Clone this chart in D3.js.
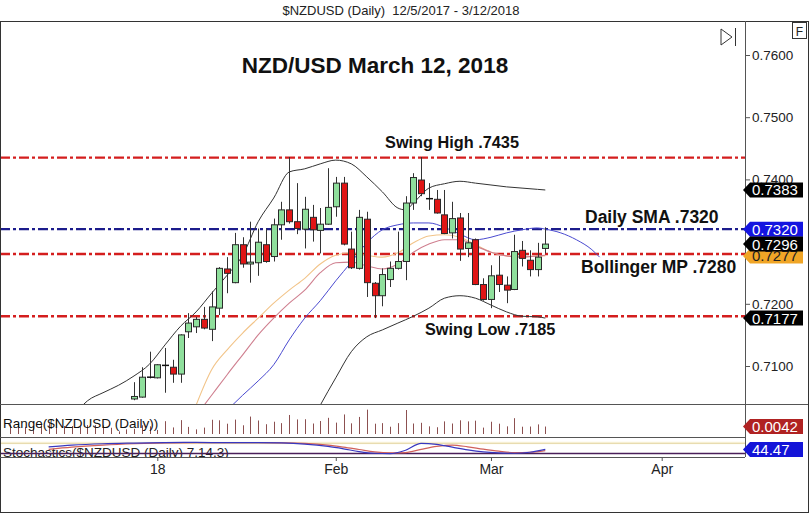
<!DOCTYPE html>
<html><head><meta charset="utf-8">
<script src="https://cdn.jsdelivr.net/npm/d3@7/dist/d3.min.js"></script>
<style>
html,body{margin:0;padding:0;background:#fff;}
svg{display:block;}
text{font-family:Arial,"Liberation Sans",Helvetica,sans-serif;}
</style></head>
<body><svg id="chart" width="810" height="515"></svg>
<script>
// ---------- DATA ----------
const dates = ["2017-12-05","2017-12-06","2017-12-07","2017-12-08","2017-12-11","2017-12-12","2017-12-13","2017-12-14","2017-12-15","2017-12-18","2017-12-19","2017-12-20","2017-12-21","2017-12-22","2017-12-25","2017-12-26","2017-12-27","2017-12-28","2017-12-29",
"2018-01-01","2018-01-02","2018-01-03","2018-01-04","2018-01-05","2018-01-08","2018-01-09","2018-01-10","2018-01-11","2018-01-12","2018-01-15","2018-01-16","2018-01-17","2018-01-18","2018-01-19","2018-01-22","2018-01-23","2018-01-24","2018-01-25","2018-01-26","2018-01-29","2018-01-30","2018-01-31",
"2018-02-01","2018-02-02","2018-02-05","2018-02-06","2018-02-07","2018-02-08","2018-02-09","2018-02-12","2018-02-13","2018-02-14","2018-02-15","2018-02-16","2018-02-19","2018-02-20","2018-02-21","2018-02-22","2018-02-23","2018-02-26","2018-02-27","2018-02-28",
"2018-03-01","2018-03-02","2018-03-05","2018-03-06","2018-03-07","2018-03-08","2018-03-09","2018-03-12"];
const open = [.6915,.6890,.6845,.6835,.6830,.6870,.6910,.6975,.6965,.6985,.6975,.7000,.7025,.7000,.7015,.7020,
.7047,.7050,.7081,.7081,.7100,.7098,.7087,.7155,.7163,.7175,.7159,.7193,.7256,.7234,.7295,.7264,.7266,.7295,.7276,.7327,.7351,.7332,.7320,.7339,.7318,.7328,.7356,.7394,.7288,.7257,.7336,.7233,.7213,.7239,.7257,.7268,.7362,.7399,.7370,.7368,.7343,.7314,.7338,.7289,.7303,.7231,.7207,.7246,.7230,.7223,.7286,.7270,.7255,.7289];
const high = [.6935,.6900,.6860,.6850,.6880,.6920,.6985,.6990,.6995,.7005,.7010,.7035,.7038,.7030,.7025,.7038,
.7074,.7098,.7123,.7103,.7129,.7110,.7151,.7185,.7179,.7195,.7220,.7259,.7275,.7314,.7307,.7332,.7321,.7321,.7337,.7364,.7436,.7394,.7372,.7359,.7354,.7418,.7404,.7404,.7316,.7351,.7348,.7235,.7257,.7268,.7316,.7373,.7410,.7436,.7394,.7383,.7383,.7364,.7346,.7346,.7305,.7241,.7262,.7277,.7244,.7311,.7301,.7286,.7298,.7323];
const low = [.6880,.6840,.6820,.6810,.6825,.6860,.6895,.6945,.6950,.6965,.6960,.6985,.6990,.6995,.7010,.7012,
.7045,.7049,.7080,.7080,.7057,.7073,.7073,.7145,.7153,.7159,.7140,.7182,.7217,.7233,.7258,.7234,.7245,.7266,.7268,.7303,.7329,.7312,.7289,.7300,.7281,.7327,.7340,.7294,.7256,.7255,.7211,.7177,.7196,.7227,.7255,.7238,.7351,.7373,.7351,.7345,.7312,.7305,.7269,.7275,.7230,.7205,.7193,.7219,.7201,.7222,.7260,.7244,.7244,.7281];
const close = [.6890,.6845,.6835,.6830,.6870,.6910,.6975,.6965,.6985,.6975,.7000,.7025,.7000,.7015,.7020,.7030,
.7051,.7082,.7082,.7102,.7101,.7087,.7150,.7169,.7175,.7161,.7195,.7257,.7249,.7295,.7264,.7267,.7299,.7268,.7327,.7351,.7332,.7321,.7352,.7319,.7328,.7355,.7394,.7296,.7258,.7339,.7234,.7213,.7247,.7257,.7268,.7362,.7403,.7377,.7369,.7346,.7313,.7337,.7288,.7298,.7231,.7207,.7245,.7231,.7222,.7284,.7273,.7255,.7275,.7296];

// indicator lines: trading-day index + value
const upperIdx  = [9,10,12,14,16,18,20,22,24,26,28,30,32,34,36,38,40,42,44,46,48,50,51,52,54,56,58,60,62,64,66,68,69];
const upperBand = [.7032,.7044,.7057,.7069,.7084,.7103,.7134,.7164,.7187,.7217,.7246,.7278,.7332,.7370,.7412,.7417,.7425,.7431,.7425,.7404,.7380,.7354,.7351,.7362,.7386,.7393,.7397,.7394,.7391,.7388,.7386,.7384,.7383];
const lowerIdx  = [38,40,42,44,46,48,50,52,54,56,58,60,62,64,66,68,69];
const lowerBand = [.6990,.7037,.7081,.7123,.7147,.7158,.7169,.7180,.7193,.7209,.7213,.7209,.7198,.7187,.7180,.7179,.7177];
const smaIdx  = [28,30,32,34,36,38,40,42,44,46,48,50,52,54,56,58,60,62,64,66,68,69,71,73,75,76];
const smaLine = [.7029,.7053,.7076,.7102,.7142,.7177,.7205,.7237,.7267,.7298,.7319,.7327,.7330,.7330,.7323,.7312,.7303,.7307,.7314,.7319,.7322,.7320,.7314,.7303,.7287,.7275];
const maOrangeIdx = [24,26,28,30,32,34,36,38,40,42,44,46,48,50,52,54,56,58,60,62,64,66,68,69];
const maOrange = [.7037,.7094,.7126,.7153,.7177,.7201,.7222,.7241,.7264,.7278,.7282,.7278,.7275,.7282,.7298,.7309,.7311,.7307,.7295,.7283,.7277,.7275,.7277,.7277];
const maPinkIdx = [24,26,28,30,32,34,36,38,40,42,44,46,48,50,52,54,56,58,60,62,64,66,68,69];
const maPink = [.7020,.7053,.7086,.7118,.7150,.7177,.7201,.7222,.7250,.7266,.7267,.7261,.7256,.7264,.7283,.7296,.7303,.7303,.7293,.7283,.7277,.7275,.7277,.7278];

const stochIdx = [5,8,12,16,20,24,28,32,35,38,41,43,45,47,49,51,53,55,57,59,61,63,65,67,69];
const stochK = [60,70,78,82,85,86,84,85,83,76,62,48,32,22,20,40,80,74,58,42,30,24,22,28,44.47];
const stochD = [45,58,70,78,83,85,84,84,83,80,70,58,44,30,24,26,45,62,70,60,46,34,26,28,38];

const priceTicks = [0.71,0.72,0.73,0.74,0.75,0.76];
const monthTickIdx = [19,42,62,84];
const monthTickLabels = ["18","Feb","Mar","Apr"];
const levelValues = [0.7435,0.7320,0.7280,0.7180];
const levelColors = ["#d41e1e","#1c1c8c","#d41e1e","#d41e1e"];
const noteTexts = ["Swing High .7435","Daily SMA .7320","Bollinger MP .7280","Swing Low .7185"];
const titleText = "NZD/USD March 12, 2018";
const headerText = "$NZDUSD (Daily)  12/5/2017 - 3/12/2018";

// ---------- LAYOUT ----------
const svg = d3.select("#chart");
const axisX = 745, frameR = 808;
const mainTop = 21, mainBot = 404, rangeBot = 437, stochBot = 457, frameBot = 512;

const x = d3.scaleLinear().domain([19,84]).range([157.3,661.7]);
const y = d3.scaleLinear().domain([0.71,0.76]).range([366,55]);
const yR = d3.scaleLinear().domain([0,0.018]).range([434,402]);
const yS = d3.scaleLinear().domain([0,100]).range([457,440]);

const defs = svg.append("defs");
function clip(id, y0, y1){
  defs.append("clipPath").attr("id",id).append("rect").attr("x",0).attr("y",y0).attr("width",axisX).attr("height",y1-y0);
}
clip("cMain", mainTop+1, mainBot);
clip("cRange", mainBot+1, rangeBot);
clip("cStoch", rangeBot+1, stochBot);

svg.append("rect").attr("width",810).attr("height",515).attr("fill","#fff");

// header
svg.append("text").attr("x",401).attr("y",15).attr("text-anchor","middle")
  .style("font-family","'Liberation Sans Narrow','Arial Narrow',Arial,sans-serif")
  .style("white-space","pre").attr("font-size",13).attr("fill","#222").text(headerText);

// ---------- MAIN PANEL ----------
const gMain = svg.append("g").attr("clip-path","url(#cMain)");

// horizontal levels
gMain.selectAll("line.lvl").data(levelValues).join("line")
  .attr("x1",0).attr("x2",axisX).attr("y1",d=>y(d)).attr("y2",d=>y(d))
  .attr("stroke",(d,i)=>levelColors[i]).attr("stroke-width",2.4)
  .attr("stroke-dasharray","10,3,3,3");

const line = d3.line().x(d=>x(d[0])).y(d=>y(d[1])).curve(d3.curveMonotoneX);
function drawLine(idx, vals, color, w){
  gMain.append("path").datum(idx.map((d,i)=>[d,vals[i]]))
    .attr("d",line).attr("fill","none").attr("stroke",color).attr("stroke-width",w);
}
drawLine(maOrangeIdx, maOrange, "#f2c489", 1.1);
drawLine(maPinkIdx, maPink, "#cf7f8f", 1.1);
drawLine(smaIdx, smaLine, "#4a4ad0", 1);
drawLine(upperIdx, upperBand, "#333", 1);
drawLine(lowerIdx, lowerBand, "#333", 1);

// candles
const bw = 6;
const candles = dates.map((d,i)=>({i,o:open[i],h:high[i],l:low[i],c:close[i]}));
const gC = gMain.append("g");
gC.selectAll("line.wick").data(candles).join("line")
  .attr("x1",d=>Math.round(x(d.i))+0.5).attr("x2",d=>Math.round(x(d.i))+0.5)
  .attr("y1",d=>y(d.h)).attr("y2",d=>y(d.l)).attr("stroke","#333").attr("stroke-width",1);
const doji = d=>Math.abs(d.c-d.o) < 0.00015;
gC.selectAll("rect.body").data(candles.filter(d=>!doji(d))).join("rect")
  .attr("x",d=>Math.round(x(d.i))-2.5).attr("width",bw)
  .attr("y",d=>y(Math.max(d.o,d.c))).attr("height",d=>Math.max(1,Math.abs(y(d.o)-y(d.c))))
  .attr("fill",d=>d.c>=d.o?"#8fdf9c":"#e01515").attr("stroke","#2a2a2a").attr("stroke-width",1);
gC.selectAll("line.doji").data(candles.filter(doji)).join("line")
  .attr("x1",d=>Math.round(x(d.i))-3).attr("x2",d=>Math.round(x(d.i))+4)
  .attr("y1",d=>y(d.c)).attr("y2",d=>y(d.c)).attr("stroke","#111").attr("stroke-width",1.5);

// annotations
svg.append("text").attr("x",375).attr("y",73).attr("text-anchor","middle")
  .attr("font-size",22.5).attr("font-weight","bold").attr("fill","#111").text(titleText);
const noteX = [452,585,581,425], noteAnchor=["middle","start","start","start"], noteDy=[-10,-6,19,19];
const noteSize = [16.3,17.5,17.5,16.3];
noteTexts.forEach((t,i)=>{
  svg.append("text").attr("x",noteX[i]).attr("y",y(levelValues[i])+noteDy[i])
    .attr("text-anchor",noteAnchor[i]).attr("font-size",noteSize[i]).attr("font-weight","bold")
    .attr("fill","#111").text(t);
});

// icons
svg.append("path").attr("d","M721,29 L732,37 L721,45 Z").attr("fill","none").attr("stroke","#333");
svg.append("line").attr("x1",735.5).attr("x2",735.5).attr("y1",28).attr("y2",46).attr("stroke","#333");
svg.append("rect").attr("x",792.5).attr("y",22.5).attr("width",14).attr("height",16).attr("fill","#fff").attr("stroke","#333");
svg.append("text").attr("x",799.5).attr("y",35.5).attr("text-anchor","middle").attr("font-size",12).attr("fill","#222").text("F");

// ---------- RANGE PANEL ----------
const gR = svg.append("g").attr("clip-path","url(#cRange)");
gR.selectAll("line").data(candles).join("line")
  .attr("x1",d=>Math.round(x(d.i))+0.5).attr("x2",d=>Math.round(x(d.i))+0.5)
  .attr("y1",yR(0)).attr("y2",d=>yR(d.h-d.l)).attr("stroke","#8c5050").attr("stroke-width",1);
svg.append("text").attr("x",3).attr("y",428).attr("font-size",13.5).attr("fill","#111").text("Range($NZDUSD (Daily))");

// ---------- STOCH PANEL ----------
const gS = svg.append("g").attr("clip-path","url(#cStoch)");
gS.append("rect").attr("x",0).attr("width",axisX).attr("y",yS(90)).attr("height",yS(75)-yS(90)).attr("fill","#fbf6df");
gS.append("line").attr("x1",0).attr("x2",axisX).attr("y1",yS(80)).attr("y2",yS(80)).attr("stroke","#e8dcb0").attr("stroke-width",1.2);
gS.append("text").attr("x",3).attr("y",457).attr("font-size",13.5).attr("fill","#222").text("Stochastics($NZDUSD (Daily) 7,14,3)");
gS.append("line").attr("x1",0).attr("x2",axisX).attr("y1",yS(20)).attr("y2",yS(20)).attr("stroke","#4a1f5a").attr("stroke-width",1.5);
const sLine = d3.line().x(d=>x(d[0])).y(d=>yS(d[1])).curve(d3.curveMonotoneX);
gS.append("path").datum(stochIdx.map((d,i)=>[d,stochD[i]])).attr("d",sLine).attr("fill","none").attr("stroke","#d0605a").attr("stroke-width",1.2);
gS.append("path").datum(stochIdx.map((d,i)=>[d,stochK[i]])).attr("d",sLine).attr("fill","none").attr("stroke","#3838c0").attr("stroke-width",1.2);

// ---------- FRAME & AXES ----------
svg.append("rect").attr("x",0.5).attr("y",mainTop+0.5).attr("width",frameR).attr("height",frameBot-mainTop)
  .attr("fill","none").attr("stroke","#333");
svg.append("line").attr("x1",0).attr("x2",frameR).attr("y1",mainBot+0.5).attr("y2",mainBot+0.5).attr("stroke","#555");
svg.append("line").attr("x1",0).attr("x2",axisX).attr("y1",rangeBot+0.5).attr("y2",rangeBot+0.5).attr("stroke","#555");
svg.append("line").attr("x1",0).attr("x2",axisX).attr("y1",stochBot+0.5).attr("y2",stochBot+0.5).attr("stroke","#555");
svg.append("line").attr("x1",axisX+0.5).attr("x2",axisX+0.5).attr("y1",mainTop).attr("y2",stochBot).attr("stroke","#555");

// price axis
const yAxis = d3.axisRight(y).tickValues(priceTicks).tickFormat(d3.format(".4f")).tickSize(5).tickPadding(2);
const gY = svg.append("g").attr("transform",`translate(${axisX},0)`).call(yAxis);
gY.select(".domain").remove();
gY.selectAll("text").attr("font-size",13.5).attr("fill","#222").style("font-family","Arial,'Liberation Sans',sans-serif");
gY.selectAll("line").attr("stroke","#555");

// time axis
const xAxis = d3.axisBottom(x).tickValues(monthTickIdx).tickFormat((d,i)=>monthTickLabels[i]).tickSize(4).tickPadding(3);
const gX = svg.append("g").attr("transform",`translate(0,${stochBot})`).call(xAxis);
gX.select(".domain").remove();
gX.selectAll("text").attr("font-size",14).attr("fill","#222").style("font-family","Arial,'Liberation Sans',sans-serif");
gX.selectAll("line").attr("stroke","#555");

// ---------- TAGS ----------
const fmt4 = d3.format(".4f");
function tag(yPos, label, fill, txt){
  const g = svg.append("g");
  g.append("path").attr("d",`M743,${yPos} L750,${yPos-7.5} L803,${yPos-7.5} L803,${yPos+7.5} L750,${yPos+7.5} Z`).attr("fill",fill);
  g.append("text").attr("x",752).attr("y",yPos+5.5).attr("fill",txt).attr("font-size",15).text(label);
}
const last = close.length-1;
tag(y(upperBand[upperBand.length-1]), fmt4(upperBand[upperBand.length-1]), "#000", "#fff");
tag(y(maOrange[maOrange.length-1]), fmt4(maOrange[maOrange.length-1]), "#f0a526", "#222");
tag(y(smaLine[smaIdx.indexOf(last)]), fmt4(smaLine[smaIdx.indexOf(last)]), "#1414e0", "#fff");
tag(y(close[last]), fmt4(close[last]), "#000", "#fff");
tag(y(lowerBand[lowerBand.length-1]), fmt4(lowerBand[lowerBand.length-1]), "#000", "#fff");
tag(yR(high[last]-low[last]), fmt4(high[last]-low[last]), "#b02222", "#fff");
tag(yS(stochK[stochK.length-1]), d3.format(".2f")(stochK[stochK.length-1]), "#1414d8", "#fff");
</script>
</body></html>
